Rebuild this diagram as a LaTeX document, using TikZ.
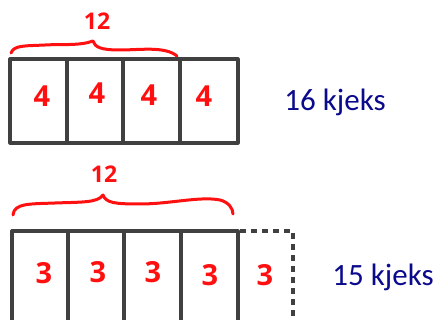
\documentclass[tikz,border=0pt]{standalone}
\usepackage{fontspec}
\setmainfont{Carlito}
\newfontfamily\handfont{Open Sans}
\definecolor{boxgray}{HTML}{404040}
\definecolor{hred}{HTML}{FF1010}
\definecolor{navy}{HTML}{0A0A8C}
\begin{document}
\begin{tikzpicture}[x=1pt,y=-1pt,
  cellline/.style={draw=boxgray,line width=3.2pt,line cap=round,line join=round},
  dashline/.style={draw=boxgray,line width=3.2pt,dash pattern=on 6pt off 5pt},
  num/.style={text=hred,font=\handfont\bfseries\fontsize{29}{29}\selectfont,inner sep=0pt},
  topnum/.style={num,font=\handfont\bfseries\fontsize{23}{23}\selectfont},
  bracestyle/.style={draw=hred,line width=3pt,line cap=round,line join=round},
  lbl/.style={text=navy,font=\fontsize{31}{31}\selectfont,inner sep=0pt}]
\useasboundingbox (0,0) rectangle (441,320);
% top row
\coordinate (t0) at (10,59); \coordinate (t4) at (238,143);
\draw[cellline] (t0) rectangle (t4);
\foreach \x in {67,123,180} \draw[cellline] (\x,59) -- (\x,143);
\node[num] (a1) at (42,96) {4};
\node[num] (a2) at (97,93) {4};
\node[num] (a3) at (149,95) {4};
\node[num] (a4) at (204,96) {4};
\draw[bracestyle] (11,53) .. controls (14,45) and (25,46) .. (45,45)
  .. controls (60,44) and (80,46) .. (93,41)
  .. controls (95,47) and (100,50) .. (120,50)
  .. controls (140,50) and (165,46) .. (177,56);
\node[topnum] (tt) at (97,21) {12};
\node[lbl] (l1) at (335,102) {16 kjeks};
% bottom row
\draw[cellline] (12,324) -- (12,231) -- (238,231) -- (238,324);
\foreach \x in {68,124,181} \draw[cellline] (\x,231) -- (\x,324);
\draw[dashline] (240,231) -- (293,231) -- (293,324);
\node[num] (b1) at (44,273) {3};
\node[num] (b2) at (98,272) {3};
\node[num] (b3) at (153,272) {3};
\node[num] (b4) at (210,275) {3};
\node[num] (b5) at (265,275) {3};
\draw[bracestyle] (13,215) .. controls (14,203) and (30,204) .. (55,203)
  .. controls (80,202) and (98,203) .. (103,195)
  .. controls (106,203) and (115,204) .. (140,204)
  .. controls (170,204) and (200,196) .. (220,200)
  .. controls (228,202) and (233,208) .. (233,214);
\node[topnum] (bt) at (104,174) {12};
\node[lbl] (l2) at (383,277) {15 kjeks};
\end{tikzpicture}
\end{document}
